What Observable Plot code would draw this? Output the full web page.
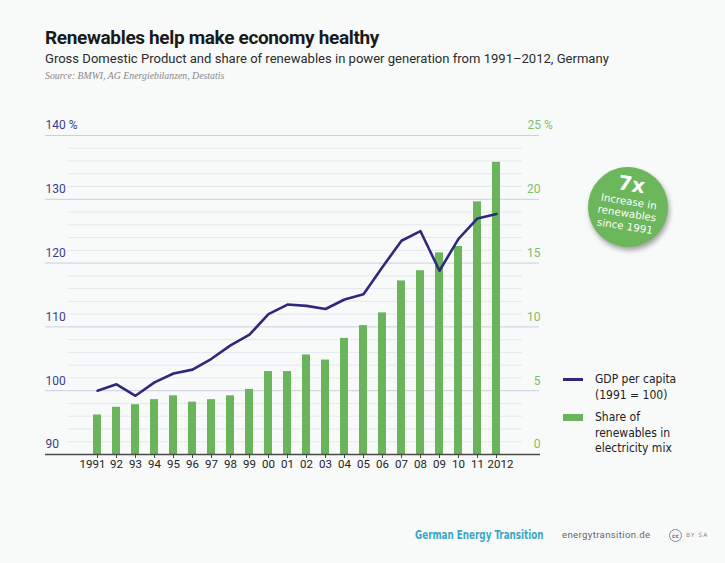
<!DOCTYPE html>
<html>
<head>
<meta charset="utf-8">
<script src="https://cdn.jsdelivr.net/npm/d3@7"></script>
<script src="https://cdn.jsdelivr.net/npm/@observablehq/plot@0.6"></script>
<style>
  html, body { margin:0; padding:0; background:#f8fafa; }
  #page { position:relative; width:725px; height:563px; background:#f8fafa; overflow:hidden; font-family:Roboto, "Open Sans", sans-serif; }
  .abs { position:absolute; white-space:nowrap; }
  #title { left:45px; top:26px; font-size:19px; font-weight:700; color:#1a1a1a; letter-spacing:-0.35px; }
  #subtitle { left:45px; top:51px; font-size:13.05px; color:#2a2a2a; }
  #source { left:45px; top:70px; font-size:9.8px; font-style:italic; color:#888; font-family:"Liberation Serif", serif; }
  #chart { position:absolute; left:0; top:100px; }
  #badge { left:588px; top:167px; width:80px; height:80px; border-radius:50%; background:#6cb65b;
           box-shadow:2px 3px 5px rgba(0,0,0,0.35); transform:rotate(9deg); color:#fff; text-align:center; }
  #badge .big { font-size:20px; font-weight:700; margin-top:7px; line-height:21px; font-family:"DejaVu Sans", sans-serif; }
  #badge .small { font-size:10.3px; line-height:12.3px; font-family:"DejaVu Sans", sans-serif; }
  .legtxt { font-size:12px; line-height:15.5px; color:#222; font-family:"DejaVu Sans Condensed","DejaVu Sans", sans-serif; }
  #footer1 { left:415px; top:527px; font-size:12.5px; font-weight:700; color:#3ba7c6; font-family:"DejaVu Sans Condensed","DejaVu Sans", sans-serif; transform:scaleX(0.78); transform-origin:left center; }
  #footer2 { left:562px; top:529px; font-size:9.6px; color:#666; font-family:Roboto, sans-serif; letter-spacing:0.35px; }
  #cc { left:669px; top:529px; width:11px; height:11px; border:1px solid #888; border-radius:50%; font-size:6px; color:#777; text-align:center; line-height:11px; font-family:"DejaVu Sans", sans-serif; font-weight:700; }
  #ccby { left:686px; top:531px; font-size:6px; color:#888; font-family:"DejaVu Sans", sans-serif; letter-spacing:1px; }
</style>
</head>
<body>
<div id="page">
  <div id="title" class="abs">Renewables help make economy healthy</div>
  <div id="subtitle" class="abs">Gross Domestic Product and share of renewables in power generation from 1991–2012, Germany</div>
  <div id="source" class="abs">Source: BMWI,  AG Energiebilanzen, Destatis</div>
  <div id="chart"></div>
  <div id="badge" class="abs">
    <div class="big">7x</div>
    <div class="small">Increase in<br>renewables<br>since 1991</div>
  </div>
  <div class="abs" style="left:563px; top:378px; width:20px; height:3px; background:#2d2a7c;"></div>
  <div class="abs legtxt" style="left:595px; top:372px;">GDP per capita<br>(1991 = 100)</div>
  <div class="abs" style="left:563px; top:414px; width:20px; height:7px; background:#6ab55c;"></div>
  <div class="abs legtxt" style="left:595px; top:410px;">Share of<br>renewables in<br>electricity mix</div>
  <div id="footer1" class="abs">German Energy Transition</div>
  <div id="footer2" class="abs">energytransition.de</div>
  <div id="cc" class="abs">cc</div>
  <div id="ccby" class="abs">BY SA</div>
</div>
<script>
const years = [1991,1992,1993,1994,1995,1996,1997,1998,1999,2000,2001,2002,2003,2004,2005,2006,2007,2008,2009,2010,2011,2012];
const yearLabels = ["1991","92","93","94","95","96","97","98","99","00","01","02","03","04","05","06","07","08","09","10","11","2012"];
const gdpPerCapita = [100,101.0,99.2,101.3,102.7,103.3,105.0,107.1,108.8,112.0,113.5,113.3,112.8,114.3,115.1,119.4,123.5,125.0,118.8,123.8,127.0,127.7];
const renewableShare = [3.1,3.7,3.9,4.3,4.6,4.1,4.3,4.6,5.1,6.5,6.5,7.8,7.4,9.1,10.1,11.1,13.6,14.4,15.8,16.3,19.8,22.9];
const leftTicks = [90,100,110,120,130,140];
const rightTicks = [0,5,10,15,20,25];
const minorLeft = [92,94,96,98,102,104,106,108,112,114,116,118,122,124,126,128,132,134,136,138];

const data = years.map((y,i)=>({year:y, label:yearLabels[i], gdp:gdpPerCapita[i], share:renewableShare[i]}));
// right axis (share, 0–25 %) mapped onto left axis (GDP index, 90–140)
const toLeft = v => 90 + 2*v;
const first = data.slice(0,1), middle = data.slice(1,-1), last = data.slice(-1);
const yearText = {x:"year", text:"label", frameAnchor:"bottom", dy:13, fill:"#222", fontSize:11.5};

const chart = Plot.plot({
  width:725, height:390,
  marginLeft:45, marginRight:190, marginTop:35, marginBottom:36,
  style:{background:"transparent", fontFamily:"Roboto, sans-serif", overflow:"visible"},
  x:{type:"band", domain:years, range:[85.4,506.6], paddingInner:0.58, paddingOuter:0.29, axis:null},
  y:{domain:[90,140], axis:null},
  marks:[
    Plot.ruleY(minorLeft, {stroke:"#e3e7ef", strokeWidth:1, insetLeft:22, insetRight:13}),
    Plot.ruleY(leftTicks.filter(d=>d>90), {stroke:"#c9cee0", strokeWidth:1, insetRight:-4}),
    Plot.barY(data, {x:"year", y1:90, y2:d=>toLeft(d.share), fill:"#6ab55c"}),
    Plot.axisX({ticks:years, tickFormat:()=>"", tickSize:4, stroke:"#444", label:null}),
    Plot.text(first, {...yearText, dx:-5}),
    Plot.text(middle, yearText),
    Plot.text(last, {...yearText, dx:4}),
    Plot.ruleY([90], {stroke:"#4a4a4a", strokeWidth:1.5, insetRight:-5}),
    Plot.lineY(data, {x:"year", y:"gdp", stroke:"#2d2a7c", strokeWidth:2.6, strokeLinejoin:"round"}),
    Plot.text(leftTicks, {y:d=>d, text:d=> d===140 ? "140 %" : String(d), frameAnchor:"left", textAnchor:"start", dy:-10, fill:"#3b3a8c", fontSize:12}),
    Plot.text(rightTicks.filter(d=>d<25), {y:d=>toLeft(d), text:d=>String(d), frameAnchor:"right", textAnchor:"end", dx:5, dy:-10, fill:"#7cbf6a", fontSize:12}),
    Plot.text(rightTicks.filter(d=>d===25), {y:d=>toLeft(d), text:d=>d+" %", frameAnchor:"right", textAnchor:"start", dx:-8, dy:-10, fill:"#7cbf6a", fontSize:12})
  ]
});
document.getElementById("chart").appendChild(chart);
</script>
</body>
</html>
